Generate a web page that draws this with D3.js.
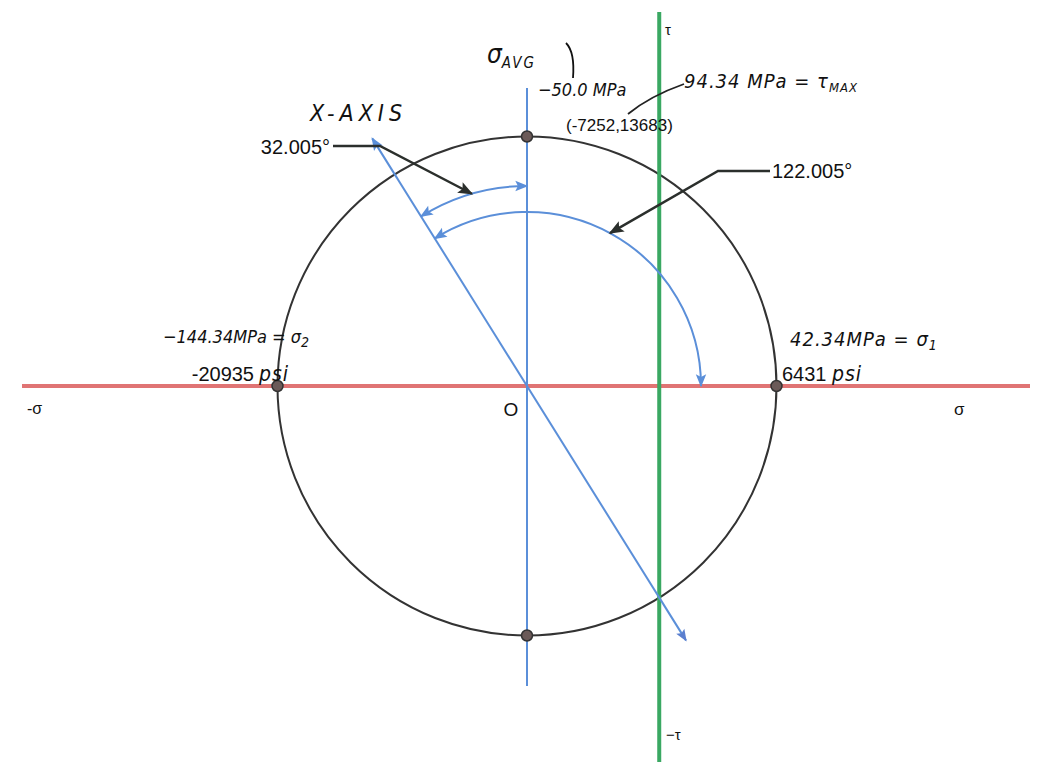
<!DOCTYPE html>
<html><head><meta charset="utf-8">
<script src="https://cdn.jsdelivr.net/npm/d3@7"></script>
<style>
html,body{margin:0;padding:0;background:#fff;}
svg{display:block;}
.hand{font-family:"Liberation Sans Narrow","DejaVu Sans Condensed","Liberation Sans",sans-serif;font-style:italic;fill:#111;}
.typ{font-family:"Liberation Sans",Arial,sans-serif;fill:#111;}
</style></head>
<body>
<script>
// ---- data (psi) ----
const sigmaAvg = -7252;
const tauMax = 13683;
const sigma1 = 6431;
const sigma2 = -20935;
const angle2Theta = [32.005, 122.005];        // degrees
const principalPoints = [
  {s: sigma2, t: 0}, {s: sigma1, t: 0},
  {s: sigmaAvg, t: tauMax}, {s: sigmaAvg, t: -tauMax}
];
const handLabels = ["−50.0 MPa", "94.34 MPa = τ", "−144.34MPa = σ", "42.34MPa = σ", "X-AXIS"];

// ---- layout ----
const W = 1037, H = 772;
const cx = 527, cy = 386, Rpx = 249.5;
const x = d3.scaleLinear().domain([sigmaAvg, sigmaAvg + tauMax]).range([cx, cx + Rpx]);
const y = d3.scaleLinear().domain([0, tauMax]).range([cy, cy - Rpx]);

const svg = d3.select("body").append("svg").attr("width", W).attr("height", H);
const defs = svg.append("defs");
function marker(id, color, w, h) {
  defs.append("marker").attr("id", id).attr("viewBox", "0 0 10 10")
    .attr("refX", 9).attr("refY", 5).attr("markerWidth", w).attr("markerHeight", h)
    .attr("markerUnits", "userSpaceOnUse").attr("orient", "auto-start-reverse")
    .append("path").attr("d", "M0,1 L10,5 L0,9 L2,5 Z").attr("fill", color);
}
marker("bArrow", "#5b8fd9", 22, 13);
marker("kArrow", "#2b2f2c", 26, 15);
marker("bLong", "#5b7fcf", 30, 12);

const red = "#e07474", blue = "#5b8fd9", green = "#3aa862", dark = "#333";

// circle
svg.append("circle").attr("cx", x(sigmaAvg)).attr("cy", y(0)).attr("r", x(sigmaAvg + tauMax) - x(sigmaAvg))
  .attr("fill", "none").attr("stroke", dark).attr("stroke-width", 2);

// sigma axis (red)
svg.append("line").attr("x1", 22).attr("x2", 1030).attr("y1", y(0)).attr("y2", y(0))
  .attr("stroke", red).attr("stroke-width", 4);
// avg vertical (blue)
svg.append("line").attr("x1", x(sigmaAvg)).attr("x2", x(sigmaAvg)).attr("y1", 88).attr("y2", 686)
  .attr("stroke", blue).attr("stroke-width", 2);
// tau axis (green)
svg.append("line").attr("x1", x(0)).attr("x2", x(0)).attr("y1", 12).attr("y2", 762)
  .attr("stroke", green).attr("stroke-width", 4);

// rotated X-axis line
const a = angle2Theta[0] * Math.PI / 180;
const dx = Math.sin(a), dy = Math.cos(a);
svg.append("line")
  .attr("x1", cx + dx * 300).attr("y1", cy + dy * 300)
  .attr("x2", cx - dx * 292).attr("y2", cy - dy * 292)
  .attr("stroke", blue).attr("stroke-width", 2)
  .attr("marker-start", "url(#bLong)").attr("marker-end", "url(#bArrow)");

// arcs
function arcPt(r, deg) {
  const t = (deg - 90) * Math.PI / 180;
  return [cx + r * Math.cos(t), cy + r * Math.sin(t)];
}
const rSmall = 200, rBig = 174;
const p1 = arcPt(rSmall, 0), p1b = arcPt(rSmall, -angle2Theta[0]);
svg.append("path").attr("d", `M${p1[0]},${p1[1]} A${rSmall},${rSmall} 0 0 0 ${p1b[0]},${p1b[1]}`)
  .attr("fill", "none").attr("stroke", blue).attr("stroke-width", 2)
  .attr("marker-start", "url(#bArrow)").attr("marker-end", "url(#bArrow)");
const q0 = arcPt(rBig, -angle2Theta[0]), q1 = arcPt(rBig, angle2Theta[1] - angle2Theta[0]);
svg.append("path").attr("d", `M${q0[0]},${q0[1]} A${rBig},${rBig} 0 0 1 ${q1[0]},${q1[1]}`)
  .attr("fill", "none").attr("stroke", blue).attr("stroke-width", 2)
  .attr("marker-start", "url(#bArrow)").attr("marker-end", "url(#bArrow)");

// leader lines
const l1 = arcPt(rSmall, -16);
svg.append("path").attr("d", `M333,146 L380,146 L${l1[0]},${l1[1]}`)
  .attr("fill", "none").attr("stroke", "#2b2f2c").attr("stroke-width", 2.5).attr("marker-end", "url(#kArrow)");
const l2 = arcPt(rBig, 28.5);
svg.append("path").attr("d", `M770,171 L718,171 L${l2[0]},${l2[1]}`)
  .attr("fill", "none").attr("stroke", "#2b2f2c").attr("stroke-width", 2.5).attr("marker-end", "url(#kArrow)");

// points
svg.selectAll("circle.pt").data(principalPoints).join("circle").attr("class", "pt")
  .attr("cx", d => x(d.s)).attr("cy", d => y(d.t)).attr("r", 5.5)
  .attr("fill", "#6b5a58").attr("stroke", "#333").attr("stroke-width", 1.5);

// typed labels
const typ = (t, px, py, size, anchor) => svg.append("text").attr("class", "typ").attr("x", px).attr("y", py)
  .attr("font-size", size).attr("text-anchor", anchor || "start").text(t);
typ(`(${sigmaAvg},${tauMax})`, 566, 131, 17);
typ(`${angle2Theta[0].toFixed(3)}°`, 330, 154, 20, "end");
typ(`${angle2Theta[1].toFixed(3)}°`, 772, 178, 20);
typ(`${sigma2}`, 254, 381, 20, "end");
typ(`${sigma1}`, 782, 381, 20);
typ("O", 511, 416, 19, "middle");
typ("-σ", 27, 414, 16);
typ("σ", 954, 415, 17);
typ("τ", 665, 35, 15);
typ("−τ", 666, 740, 15);

// handwritten annotations
const hand = (px, py, size, spacing) => svg.append("text").attr("class", "hand").attr("x", px).attr("y", py)
  .attr("font-size", size).attr("letter-spacing", spacing || 0);
let t;
t = hand(487, 63, 26, 0); t.append("tspan").text("σ"); t.append("tspan").attr("font-size", 15).attr("dy", 5).attr("letter-spacing", 2).text("AVG");
hand(538, 96, 18, 0).text(handLabels[0]);
t = hand(684, 88, 20, 1); t.append("tspan").text(handLabels[1]); t.append("tspan").attr("font-size", 13).attr("dy", 4).text("MAX");
hand(310, 121, 23, 5).text(handLabels[4]);
t = hand(163, 343, 18, 0); t.append("tspan").text(handLabels[2]); t.append("tspan").attr("font-size", 14).attr("dy", 4).text("2");
t = hand(790, 346, 20, 1); t.append("tspan").text(handLabels[3]); t.append("tspan").attr("font-size", 14).attr("dy", 4).text("1");
hand(259, 381, 21, 1).text("psi");
hand(832, 381, 21, 1).text("psi");
// hand strokes
svg.append("path").attr("d", "M566,43 Q575,52 573,78").attr("fill", "none").attr("stroke", "#111").attr("stroke-width", 1.8);
svg.append("path").attr("d", "M628,114 Q650,96 684,84").attr("fill", "none").attr("stroke", "#222").attr("stroke-width", 1.8);
</script>
</body></html>
